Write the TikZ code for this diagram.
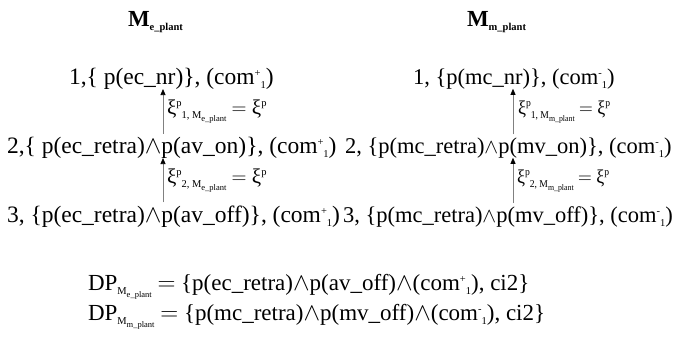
\documentclass[tikz,border=0pt]{standalone}
\usepackage{fontspec}
\setmainfont{Liberation Serif}
\usetikzlibrary{arrows.meta}
\newcommand{\Sp}[1]{\raisebox{8pt}{\fontsize{10.5}{10.5}\selectfont #1}}
\newcommand{\Sb}[1]{\raisebox{-4.5pt}{\fontsize{10.5}{10.5}\selectfont #1}}
\newcommand{\Ssb}[1]{\raisebox{-2.5pt}{\fontsize{8.5}{8.5}\selectfont #1}}
\newcommand{\comp}{com\Sp{+}\Sb{1}}
\newcommand{\comm}{com\Sp{-}\Sb{1}}
\newcommand{\wg}{$\wedge$}
\begin{document}
\begin{tikzpicture}[x=1pt,y=-1pt,
  txt/.style={anchor=base west,inner sep=0pt,outer sep=0pt,font=\fontsize{23.5}{23.5}\selectfont},
  txtr/.style={txt,font=\fontsize{22.5}{22.5}\selectfont},
  dp/.style={txt,font=\fontsize{23}{23}\selectfont},
  lab/.style={anchor=base west,inner sep=0pt,outer sep=0pt,font=\fontsize{21}{21}\selectfont},
  labr/.style={lab,font=\fontsize{19.5}{19.5}\selectfont},
  ttl/.style={anchor=base west,inner sep=0pt,outer sep=0pt,font=\fontsize{23}{23}\selectfont\bfseries},
  arr/.style={draw=gray,line width=0.7pt,-{Triangle[length=6pt,width=5pt,color=black]}}]
\useasboundingbox (0,0) rectangle (674,338);
\node[ttl] (t1) at (128,26) {M\Sb{e\_plant}};
\node[ttl] (t2) at (467,26) {M\Sb{m\_plant}};
\node[txt] (l1) at (69,84) {1,\{ p(ec\_nr)\}, (\comp)};
\node[txt] (l2) at (7,153) {2,\{ p(ec\_retra)\wg p(av\_on)\}, (\comp)};
\node[txt] (l3) at (7,222) {3, \{p(ec\_retra)\wg p(av\_off)\}, (\comp)};
\node[txtr] (r1) at (413,84) {1, \{p(mc\_nr)\}, (\comm)};
\node[txtr] (r2) at (345,153) {2, \{p(mc\_retra)\wg p(mv\_on)\}, (\comm)};
\node[txtr] (r3) at (343,222) {3, \{p(mc\_retra)\wg p(mv\_off)\}, (\comm)};
\node[lab] (x1) at (167,114) {ξ\Sp{p}\Sb{1, M\Ssb{e\_plant}} $=$ ξ\Sp{p}};
\node[lab] (x2) at (167,183) {ξ\Sp{p}\Sb{2, M\Ssb{e\_plant}} $=$ ξ\Sp{p}};
\node[labr] (y1) at (518,114) {\scalebox{0.92}[1]{ξ\Sp{p}\Sb{1, M\Ssb{m\_plant}} $=$ ξ\Sp{p}}};
\node[labr] (y2) at (517,183) {\scalebox{0.92}[1]{ξ\Sp{p}\Sb{2, M\Ssb{m\_plant}} $=$ ξ\Sp{p}}};
\node[dp] (d1) at (88,290) {DP\Sb{M\Ssb{e\_plant}} $=$ \{p(ec\_retra)\wg p(av\_off)\wg(\comp), ci2\}};
\node[dp] (d2) at (88,320) {DP\Sb{M\Ssb{m\_plant}} $=$ \{p(mc\_retra)\wg p(mv\_off)\wg(\comm), ci2\}};
\coordinate (ax1) at (163,0);
\coordinate (ax2) at (513,0);
\draw[arr,shorten <=3pt] (l2.north -| ax1) -- (l1.south -| ax1);
\draw[arr,shorten <=3pt] (l3.north -| ax1) -- (l2.south -| ax1);
\draw[arr,shorten <=3pt] (r2.north -| ax2) -- (r1.south -| ax2);
\draw[arr,shorten <=3pt] (r3.north -| ax2) -- (r2.south -| ax2);
\end{tikzpicture}
\end{document}
